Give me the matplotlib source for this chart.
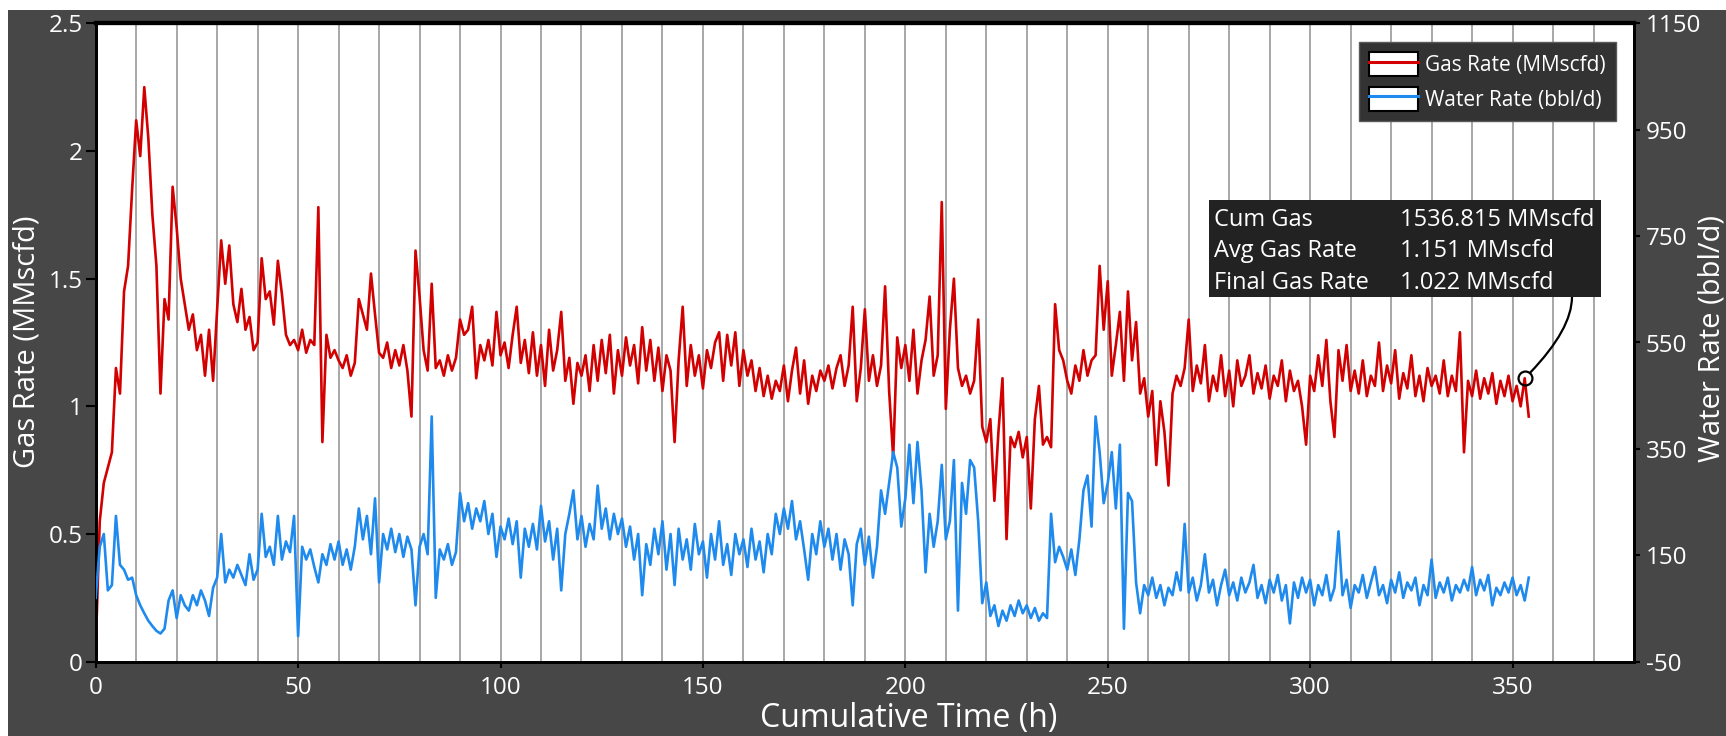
import matplotlib
matplotlib.use("Agg")
import matplotlib.pyplot as plt
from matplotlib.patches import Rectangle
from matplotlib.lines import Line2D
from matplotlib.legend_handler import HandlerTuple
import numpy as np

plt.rcParams['font.family'] = ['Open Sans', 'DejaVu Sans']

# ---------------- data (hourly readings) ----------------
gas_rate = [
    0.05, 0.55, 0.70, 0.76, 0.82, 1.15, 1.05, 1.45, 1.55, 1.85,
    2.12, 1.98, 2.25, 2.05, 1.75, 1.55, 1.05, 1.42, 1.34, 1.86,
    1.70, 1.50, 1.40, 1.30, 1.36, 1.22, 1.28, 1.12, 1.30, 1.10,
    1.38, 1.65, 1.48, 1.63, 1.40, 1.33, 1.46, 1.30, 1.35, 1.22,
    1.25, 1.58, 1.42, 1.45, 1.32, 1.57, 1.44, 1.28, 1.24, 1.26,
    1.22, 1.30, 1.21, 1.26, 1.24, 1.78, 0.86, 1.28, 1.19, 1.22,
    1.18, 1.15, 1.20, 1.12, 1.17, 1.42, 1.36, 1.30, 1.52, 1.36,
    1.21, 1.19, 1.25, 1.15, 1.22, 1.16, 1.24, 1.14, 0.96, 1.61,
    1.43, 1.22, 1.14, 1.48, 1.15, 1.18, 1.12, 1.20, 1.14, 1.19,
    1.34, 1.28, 1.30, 1.39, 1.11, 1.24, 1.18, 1.26, 1.16, 1.37,
    1.20, 1.25, 1.15, 1.28, 1.39, 1.17, 1.26, 1.13, 1.29, 1.12,
    1.24, 1.08, 1.30, 1.14, 1.22, 1.37, 1.10, 1.19, 1.01, 1.17,
    1.12, 1.20, 1.06, 1.24, 1.10, 1.26, 1.13, 1.28, 1.05, 1.22,
    1.12, 1.27, 1.16, 1.24, 1.09, 1.31, 1.14, 1.26, 1.10, 1.23,
    1.06, 1.20, 1.14, 0.86, 1.18, 1.39, 1.08, 1.24, 1.12, 1.20,
    1.07, 1.22, 1.15, 1.25, 1.29, 1.10, 1.28, 1.16, 1.29, 1.08,
    1.22, 1.12, 1.18, 1.06, 1.15, 1.04, 1.12, 1.03, 1.10, 1.06,
    1.16, 1.02, 1.14, 1.23, 1.05, 1.18, 1.01, 1.12, 1.06, 1.14,
    1.10, 1.16, 1.07, 1.15, 1.20, 1.08, 1.16, 1.39, 1.02, 1.15,
    1.38, 1.10, 1.20, 1.08, 1.16, 1.47, 1.06, 0.80, 1.27, 1.15,
    1.24, 1.10, 1.30, 1.05, 1.18, 1.26, 1.43, 1.12, 1.20, 1.80,
    0.99, 1.30, 1.50, 1.15, 1.08, 1.12, 1.05, 1.10, 1.34, 0.92,
    0.86, 0.95, 0.63, 0.90, 1.11, 0.48, 0.88, 0.84, 0.90, 0.80,
    0.88, 0.60, 0.95, 1.08, 0.85, 0.88, 0.84, 1.40, 1.22, 1.18,
    1.10, 1.05, 1.16, 1.10, 1.22, 1.12, 1.18, 1.20, 1.55, 1.30,
    1.49, 1.12, 1.24, 1.37, 1.10, 1.45, 1.18, 1.33, 1.05, 1.11,
    0.96, 1.06, 0.77, 1.02, 0.90, 0.69, 1.05, 1.12, 1.08, 1.15,
    1.34, 1.06, 1.16, 1.09, 1.24, 1.02, 1.12, 1.06, 1.20, 1.04,
    1.14, 1.00, 1.18, 1.08, 1.12, 1.20, 1.05, 1.13, 1.07, 1.16,
    1.03, 1.12, 1.08, 1.18, 1.02, 1.14, 1.06, 1.10, 1.00, 0.85,
    1.12, 1.06, 1.20, 1.08, 1.26, 1.02, 0.88, 1.22, 1.10, 1.24,
    1.06, 1.14, 1.05, 1.18, 1.04, 1.12, 1.08, 1.25, 1.06, 1.16,
    1.09, 1.22, 1.03, 1.13, 1.07, 1.20, 1.04, 1.12, 1.02, 1.15,
    1.08, 1.12, 1.05, 1.18, 1.04, 1.12, 1.06, 1.29, 0.82, 1.10,
    1.04, 1.14, 1.03, 1.11, 1.05, 1.13, 1.01, 1.10, 1.04, 1.12,
    1.02, 1.08, 1.00, 1.11, 0.96,
]

water_rate = [
    70, 166, 190, 84, 94, 224, 132, 123, 104, 108,
    75, 56, 41, 27, 17, 8, 3, 12, 65, 84,
    32, 75, 56, 46, 75, 56, 84, 65, 36, 89,
    108, 190, 99, 123, 108, 132, 113, 94, 152, 104,
    123, 228, 147, 166, 132, 224, 142, 176, 156, 224,
    -2, 166, 142, 161, 128, 99, 152, 132, 171, 142,
    176, 132, 161, 123, 166, 238, 180, 224, 152, 257,
    99, 190, 161, 200, 156, 190, 147, 185, 161, 56,
    166, 190, 152, 411, 70, 161, 142, 171, 132, 156,
    267, 214, 248, 200, 238, 214, 252, 190, 228, 147,
    204, 180, 219, 171, 214, 108, 200, 166, 209, 161,
    243, 176, 214, 142, 200, 84, 190, 228, 272, 180,
    224, 166, 209, 180, 281, 200, 238, 180, 228, 190,
    219, 166, 204, 142, 190, 75, 171, 132, 200, 152,
    214, 123, 190, 94, 200, 142, 180, 123, 209, 152,
    176, 108, 190, 142, 214, 132, 171, 113, 190, 152,
    180, 128, 200, 142, 176, 118, 190, 152, 228, 190,
    238, 200, 252, 180, 214, 161, 104, 190, 152, 214,
    166, 200, 142, 190, 123, 180, 152, 56, 171, 200,
    132, 185, 108, 166, 272, 228, 286, 344, 315, 204,
    257, 358, 248, 363, 272, 118, 228, 166, 214, 320,
    180, 214, 329, 46, 286, 228, 329, 315, 214, 60,
    99, 36, 56, 17, 46, 27, 56, 36, 65, 41,
    56, 32, 51, 27, 41, 32, 228, 137, 166, 147,
    123, 161, 113, 180, 272, 300, 204, 411, 344, 248,
    286, 344, 238, 358, 12, 267, 252, 99, 41, 94,
    75, 108, 70, 94, 56, 89, 75, 118, 84, 209,
    80, 108, 65, 94, 152, 80, 104, 56, 94, 123,
    75, 99, 65, 108, 80, 99, 132, 70, 94, 60,
    104, 80, 113, 65, 94, 22, 99, 70, 108, 80,
    104, 56, 94, 75, 113, 65, 89, 195, 75, 104,
    51, 94, 80, 113, 70, 99, 128, 75, 94, 60,
    104, 80, 118, 70, 99, 84, 108, 56, 94, 75,
    142, 70, 99, 80, 108, 65, 94, 80, 104, 84,
    128, 75, 104, 84, 113, 56, 89, 75, 99, 80,
    108, 75, 94, 65, 108,
]

hours = np.arange(len(gas_rate))  # cumulative time, one reading per hour

x_ticks = [0, 50, 100, 150, 200, 250, 300, 350]
gas_ticks = [0, 0.5, 1, 1.5, 2, 2.5]
gas_tick_labels = ['0', '0.5', '1', '1.5', '2', '2.5']
water_ticks = [-50, 150, 350, 550, 750, 950, 1150]
water_tick_labels = ['-50', '150', '350', '550', '750', '950', '1150']

series_labels = ['Gas Rate (MMscfd)', 'Water Rate (bbl/d)']
stat_names = ['Cum Gas', 'Avg Gas Rate', 'Final Gas Rate']
stat_values = ['1536.815 MMscfd', '1.151 MMscfd', '1.022 MMscfd']
annot_index = 353

# ---------------- styling ----------------
W, H = 1726, 736
BG = '#474747'
RED = '#d20000'
BLUE = '#1e8aee'

def fx(px):
    return px / W

def fy(py):
    return 1 - py / H

fig = plt.figure(figsize=(W / 100, H / 100), dpi=100, facecolor=BG)
# white margins at the top and left of the original screenshot
fig.add_artist(Rectangle((0, fy(10)), 1, 10 / H, transform=fig.transFigure,
                         facecolor='white', edgecolor='none', zorder=-5))
fig.add_artist(Rectangle((0, 0), 8 / W, 1, transform=fig.transFigure,
                         facecolor='white', edgecolor='none', zorder=-5))

L, R, T, B = 95.7, 1634, 23.3, 661.7
ax = fig.add_axes([fx(L), fy(B), (R - L) / W, (B - T) / H])
ax.set_facecolor('white')
ax.set_xlim(0, 380)
ax.set_ylim(0, 2.5)
ax.set_xticks(x_ticks)
ax.set_xticklabels([str(t) for t in x_ticks])
ax.set_xticks(np.arange(0, 380, 10), minor=True)
ax.set_yticks(gas_ticks)
ax.set_yticklabels(gas_tick_labels)
ax.grid(axis='x', which='both', color='#8f8f8f', lw=1.1)
ax.set_axisbelow(True)
ax.tick_params(axis='x', which='minor', length=0)
ax.tick_params(axis='x', which='major', direction='out', length=4, width=1.5,
               color='black', labelcolor='white', labelsize=17.5, pad=6)
ax.tick_params(axis='y', direction='out', length=7, width=1.5,
               color='black', labelcolor='white', labelsize=17.5, pad=2.5)

ax.plot(hours, gas_rate, color=RED, lw=1.9, zorder=3)

ax2 = ax.twinx()
ax2.set_ylim(-50, 1150)
ax2.set_yticks(water_ticks)
ax2.set_yticklabels(water_tick_labels)
ax2.tick_params(axis='y', direction='out', length=4.5, width=1.5,
                color='black', labelcolor='white', labelsize=17.5, pad=4)
ax2.plot(hours, water_rate, color=BLUE, lw=1.9, zorder=3)

for a in (ax, ax2):
    for side, sp in a.spines.items():
        sp.set_color('black')
        sp.set_linewidth(3.0 if side == 'top' else 2.0)

# axis labels
fig.text(fx(27), fy(342), 'Gas Rate (MMscfd)', rotation=90, color='white',
         fontsize=21, ha='center', va='center')
fig.text(fx(1712), fy(338), 'Water Rate (bbl/d)', rotation=90, color='white',
         fontsize=21, ha='center', va='center')
fig.text(fx(909), fy(718), 'Cumulative Time (h)', color='white',
         fontsize=23, ha='center', va='center')

# legend
handles = [
    (Rectangle((0, 0), 1, 1, facecolor='white', edgecolor='black', lw=1.5),
     Line2D([], [], color=RED, lw=2.2)),
    (Rectangle((0, 0), 1, 1, facecolor='white', edgecolor='black', lw=1.5),
     Line2D([], [], color=BLUE, lw=2.2)),
]
leg = ax2.legend(handles, series_labels, handler_map={tuple: HandlerTuple(ndivide=1, pad=0)},
                 loc='upper right', bbox_to_anchor=(fx(1615.6), fy(42)),
                 bbox_transform=fig.transFigure, borderaxespad=0,
                 fontsize=15, labelcolor='white', facecolor='#333333',
                 edgecolor='#5a5a5a', framealpha=1, fancybox=False,
                 handlelength=2.35, handleheight=1.4, labelspacing=0.5,
                 handletextpad=0.3, borderpad=0.5)
leg.get_frame().set_linewidth(1.0)

# statistics box
fig.add_artist(Rectangle((fx(1209), fy(297)), (1601 - 1209) / W, (297 - 200) / H,
                         transform=fig.transFigure, facecolor='#222222',
                         edgecolor='none', zorder=10))
row_y = [220, 251, 283]
for name, val, y in zip(stat_names, stat_values, row_y):
    fig.text(fx(1214), fy(y), name, color='white', fontsize=17, ha='left',
             va='center', zorder=11)
    fig.text(fx(1400), fy(y), val, color='white', fontsize=17, ha='left',
             va='center', zorder=11)

# pointer to the last gas reading
ax.plot(hours[annot_index], gas_rate[annot_index], 'o', mfc='none', mec='black',
        ms=10, mew=1.6, zorder=6)
ax.annotate('', xy=(hours[annot_index], gas_rate[annot_index]), xycoords='data',
            xytext=(fx(1572), fy(297)), textcoords='figure fraction',
            arrowprops=dict(arrowstyle='-', color='black', lw=1.6,
                            connectionstyle='angle3,angleA=90,angleB=45',
                            shrinkA=0, shrinkB=5.5), zorder=6)

fig.savefig('out.png', dpi=100, facecolor=BG)
